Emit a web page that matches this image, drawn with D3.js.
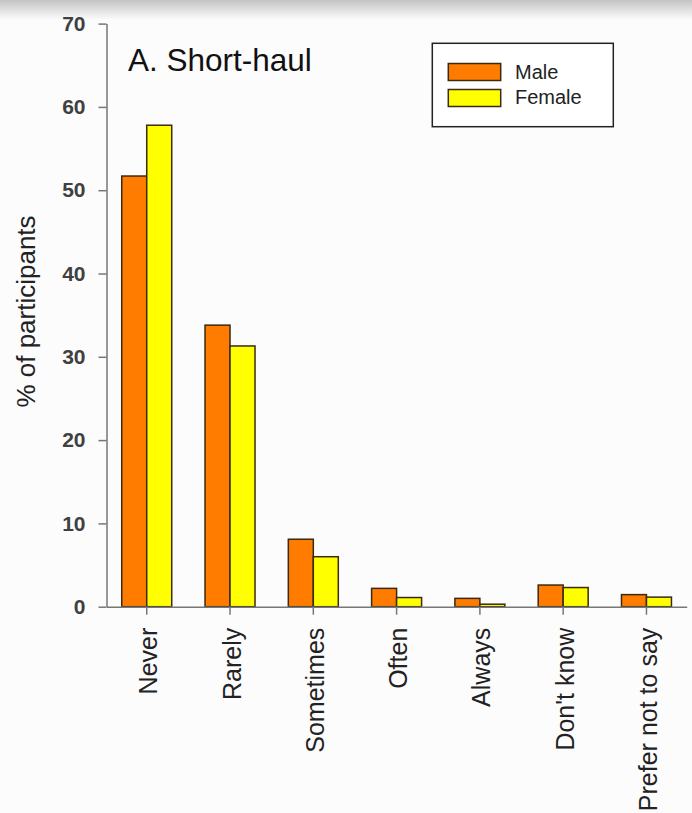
<!DOCTYPE html>
<html><head><meta charset="utf-8">
<script src="https://cdn.jsdelivr.net/npm/d3@7"></script>
<style>body{margin:0;background:#fcfcfc;} svg{display:block;}</style>
</head><body>
<script>
const categories = ["Never","Rarely","Sometimes","Often","Always","Don't know","Prefer not to say"];
const series = ["Male","Female"];
const maleValues = [51.7, 33.8, 8.1, 2.2, 1.0, 2.6, 1.45];
const femaleValues = [57.8, 31.3, 6.0, 1.1, 0.3, 2.3, 1.15];
const yTicks = [0,10,20,30,40,50,60,70];
const colors = ["#ff7c00","#ffff00"];

(function(){
const W = 692, H = 813;
const svg = d3.select("body").append("svg").attr("width", W).attr("height", H);
const defs = svg.append("defs");
const g0 = defs.append("linearGradient").attr("id","shade").attr("x1",0).attr("y1",0).attr("x2",0).attr("y2",1);
g0.append("stop").attr("offset","0%").attr("stop-color","#c4c4c4");
g0.append("stop").attr("offset","100%").attr("stop-color","#fcfcfc");
svg.append("rect").attr("x",0).attr("y",0).attr("width",W).attr("height",20).attr("fill","url(#shade)");

const mL = 106.5, mR = 686.7, mT = 23.6, mB = 606.7;
const y = d3.scaleLinear().domain([0,70]).range([mB, mT]);
const x = d3.scaleBand().domain(categories).range([mL, mR]).paddingInner(0.4).paddingOuter(0.183);
const xs = d3.scaleBand().domain(series).range([0, x.bandwidth()]);

const font = "Liberation Sans, Arial, sans-serif";

// y axis
const yAxis = svg.append("g").attr("transform",`translate(${mL},0)`)
  .call(d3.axisLeft(y).tickValues(yTicks).tickSize(8).tickPadding(13).tickSizeOuter(0));
yAxis.select(".domain").attr("stroke","#777").attr("stroke-width",1.5);
yAxis.selectAll(".tick line").attr("stroke","#777").attr("stroke-width",1.5);
yAxis.selectAll("text").attr("font-family",font).attr("font-size",21).attr("font-weight","bold").attr("fill","#404040");

// bars
const data = categories.map((c,i)=>({cat:c, vals:[maleValues[i], femaleValues[i]]}));
const groups = svg.append("g").selectAll("g").data(data).join("g")
  .attr("transform", d=>`translate(${x(d.cat)},0)`);
groups.selectAll("rect").data(d=>d.vals.map((v,j)=>({s:series[j], v, j})))
  .join("rect")
  .attr("x", d=>xs(d.s)).attr("width", xs.bandwidth())
  .attr("y", d=>y(d.v)).attr("height", d=>y(0)-y(d.v))
  .attr("fill", d=>colors[d.j]).attr("stroke","#3a2a10").attr("stroke-width",1.5);

// x axis
const xAxis = svg.append("g").attr("transform",`translate(0,${mB})`)
  .call(d3.axisBottom(x).tickSize(8).tickSizeOuter(0).tickPadding(10));
xAxis.select(".domain").attr("stroke","#777").attr("stroke-width",1.5);
xAxis.selectAll(".tick line").attr("stroke","#777").attr("stroke-width",1.5);
xAxis.selectAll("text").attr("font-family",font).attr("font-size",25).attr("fill","#222")
  .attr("transform","rotate(-90)").attr("text-anchor","end").attr("dy","0.42em").attr("x",-21).attr("y",0);

// y label
svg.append("text").attr("transform",`translate(35,311.5) rotate(-90)`).attr("text-anchor","middle")
  .attr("font-family",font).attr("font-size",26).attr("fill","#222")
  .text("% of participants");

// title
svg.append("text").attr("x",128).attr("y",71).attr("font-family",font)
  .attr("font-size",31.5).attr("fill","#111").text("A. Short-haul");

// legend
const lg = svg.append("g");
lg.append("rect").attr("x",432.3).attr("y",43.3).attr("width",181).attr("height",83.4).attr("fill","#fff").attr("stroke","#222").attr("stroke-width",1.5);
series.forEach((s,i)=>{
  lg.append("rect").attr("x",448.3).attr("y",63.5+i*26).attr("width",52.4).attr("height",17)
    .attr("fill",colors[i]).attr("stroke","#3a2a10").attr("stroke-width",1.5);
  lg.append("text").attr("x",515).attr("y",79.3+i*25).attr("font-family",font)
    .attr("font-size",20).attr("fill","#222").text(s);
});
})();
</script>
</body></html>
